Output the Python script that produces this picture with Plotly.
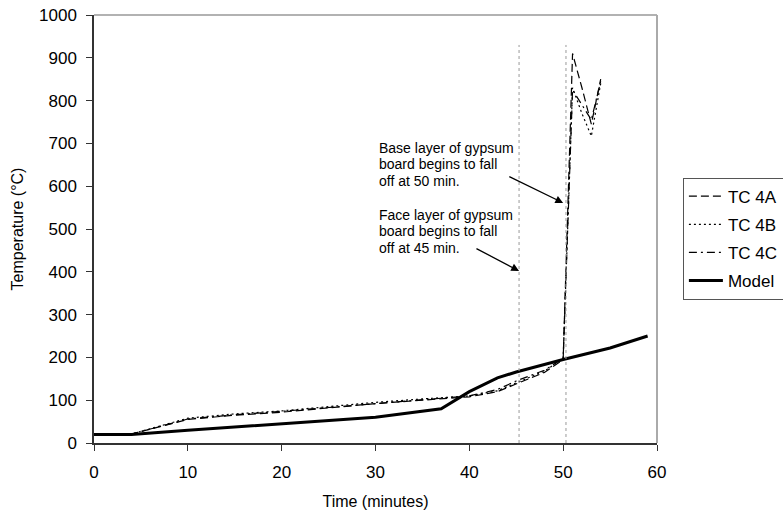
import plotly.graph_objects as go

# ---- data ----
tc_time = [0, 4, 10, 15, 20, 25, 30, 35, 40, 43, 45, 48, 50, 51, 52, 53, 54]
tc_4a = [20, 21, 55, 65, 72, 82, 92, 100, 108, 120, 138, 165, 195, 910, 830, 745, 850]
tc_4b = [20, 21, 58, 68, 75, 85, 95, 103, 110, 122, 140, 168, 197, 830, 770, 717, 840]
tc_4c = [20, 21, 56, 66, 74, 83, 93, 102, 110, 125, 145, 170, 198, 825, 790, 755, 845]

model_time = [0, 4, 10, 20, 30, 37, 40, 43, 45, 50, 55, 59]
model_temp = [20, 20, 30, 45, 60, 80, 120, 152, 166, 195, 222, 250]

fall_off_times = [45.3, 50.3]
fall_off_top = 930

base_note = ["Base layer of gypsum", "board begins to fall", "off at 50 min."]
face_note = ["Face layer of gypsum", "board begins to fall", "off at 45 min."]
base_note_y = [689, 651, 612]
face_note_y = [533, 495, 456]
note_x = 30.2
arrow_tail = [(44.1, 624), (40.6, 456)]
arrow_head = [(50.0, 561), (45.3, 402)]

FONT = "Liberation Sans, Arial, sans-serif"

fig = go.Figure()
series = [("TC 4A", tc_4a, "8px,4px"), ("TC 4B", tc_4b, "2px,3px"), ("TC 4C", tc_4c, "8px,4px,2px,4px")]
for name, vals, dash in series:
    fig.add_trace(go.Scatter(x=tc_time, y=vals, mode="lines", name=name, legendgroup=name,
                             line=dict(color="black", width=1.2, dash=dash)))
fig.add_trace(go.Scatter(x=model_time, y=model_temp, mode="lines", name="Model", legendgroup="Model",
                         line=dict(color="black", width=3)))

for t in fall_off_times:
    fig.add_shape(type="line", xref="x", yref="y", x0=t, x1=t, y0=0, y1=fall_off_top,
                  line=dict(color="#999999", width=1, dash="dot"))

# grey top and right frame
fig.add_shape(type="line", xref="paper", yref="paper", x0=0, x1=1, y0=1, y1=1,
              line=dict(color="#999999", width=1.5))
fig.add_shape(type="line", xref="paper", yref="paper", x0=1, x1=1, y0=0, y1=1,
              line=dict(color="#aaaaaa", width=2))

for lines, ys in [(base_note, base_note_y), (face_note, face_note_y)]:
    for txt, ny in zip(lines, ys):
        fig.add_annotation(x=note_x, y=ny, xref="x", yref="y", text=txt, showarrow=False,
                           xanchor="left", yanchor="middle", align="left",
                           font=dict(family=FONT, size=14, color="black"))
for (tx, ty), (hx, hy) in zip(arrow_tail, arrow_head):
    fig.add_annotation(x=hx, y=hy, ax=tx, ay=ty, xref="x", yref="y", axref="x", ayref="y",
                       text="", showarrow=True, arrowhead=2, arrowsize=1.2, arrowwidth=1.3,
                       arrowcolor="black")

fig.update_layout(
    width=783, height=517,
    margin=dict(l=94, r=126, t=15, b=74, autoexpand=False),
    paper_bgcolor="white", plot_bgcolor="white",
    font=dict(family=FONT, size=17, color="black"),
    showlegend=True,
    legend=dict(x=1.046, y=0.62, xanchor="left", yanchor="top",
                bordercolor="#555555", borderwidth=1, bgcolor="white",
                tracegroupgap=3, itemwidth=34, font=dict(size=17)),
    xaxis=dict(range=[0, 60], dtick=10, showgrid=False, zeroline=False, automargin=False,
               showline=True, linecolor="#333333", linewidth=1.5,
               ticks="outside", ticklen=6, tickcolor="#333333", ticklabelstandoff=7,
               title=dict(text="Time (minutes)", standoff=15, font=dict(size=16))),
    yaxis=dict(range=[0, 1000], dtick=100, showgrid=False, zeroline=False, automargin=False,
               showline=True, linecolor="#333333", linewidth=1.5,
               ticks="outside", ticklen=6, tickcolor="#333333", ticklabelstandoff=6,
               title=dict(text="Temperature (°C)", standoff=11, font=dict(size=16))),
)

fig.write_html("out.html", config={"displayModeBar": False},
               post_script="document.body.style.margin='0px';")
